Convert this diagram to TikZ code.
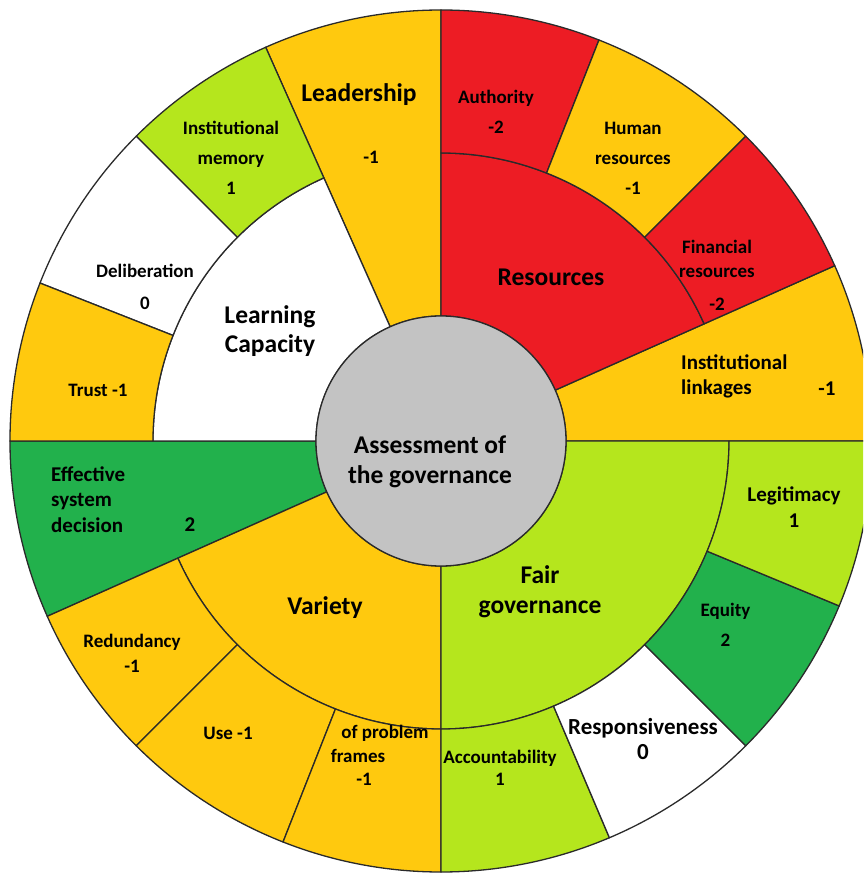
\documentclass[tikz,border=0pt]{standalone}
\usepackage{fontspec}
\setmainfont{Carlito}

\definecolor{cyellow}{HTML}{FFC90E}
\definecolor{cred}{HTML}{ED1C24}
\definecolor{clime}{HTML}{B5E61D}
\definecolor{cgreen}{HTML}{22B14C}
\definecolor{cgray}{HTML}{C3C3C3}
\definecolor{cedge}{HTML}{2A2A2A}

% annular sector: colour, start angle, end angle, inner radius, outer radius
\newcommand\annsector[5]{%
  \filldraw[sector, fill=#1]
    (#2:#4) arc[start angle=#2, end angle=#3, radius=#4]
    -- (#3:#5) arc[start angle=#3, end angle=#2, radius=#5] -- cycle;}

\begin{document}
\begin{tikzpicture}[x=1pt, y=1pt,
  sector/.style={draw=cedge, line width=1.3pt, line join=round},
  lbl/.style 2 args={font=\fontsize{#1}{#2}\selectfont\bfseries,
    align=center, anchor=center, inner sep=0pt, text=black},
  lbll/.style 2 args={font=\fontsize{#1}{#2}\selectfont\bfseries,
    align=left, anchor=west, inner sep=0pt, text=black}]

\useasboundingbox (-441,-434) rectangle (422,441);
\clip (-441,-434) rectangle (422,441);
\fill[white] (-441,-434) rectangle (422,441);

% radii of the three rings
\def\ra{125}
\def\rb{288}
\def\rc{431}

% categories without sub-items span both rings
\annsector{cyellow}{0}{24}{\ra}{\rc}
\annsector{cyellow}{90}{114}{\ra}{\rc}
\annsector{cgreen}{180}{204}{\ra}{\rc}

% inner ring: categories
\annsector{cred}{24}{90}{\ra}{\rb}
\annsector{white}{114}{180}{\ra}{\rb}
\annsector{cyellow}{204}{270}{\ra}{\rb}
\annsector{clime}{270}{360}{\ra}{\rb}

% outer ring: sub-items
\annsector{cred}{68.5}{90}{\rb}{\rc}
\annsector{cyellow}{45}{68.5}{\rb}{\rc}
\annsector{cred}{24}{45}{\rb}{\rc}
\annsector{clime}{114}{135}{\rb}{\rc}
\annsector{white}{135}{158.5}{\rb}{\rc}
\annsector{cyellow}{158.5}{180}{\rb}{\rc}
\annsector{cyellow}{204}{225}{\rb}{\rc}
\annsector{cyellow}{225}{248.5}{\rb}{\rc}
\annsector{cyellow}{248.5}{270}{\rb}{\rc}
\annsector{clime}{270}{293}{\rb}{\rc}
\annsector{white}{293}{315}{\rb}{\rc}
\annsector{cgreen}{315}{337.5}{\rb}{\rc}
\annsector{clime}{337.5}{360}{\rb}{\rc}

% hub
\filldraw[sector, fill=cgray] (0,0) circle[radius=\ra];

% hub and category labels
\node[lbl={25.5}{30}] (hub) at (-11,-21) {Assessment of\\the governance};
\node[lbl={25.5}{28}] (leadership) at (-82,346) {Leadership};
\node[lbl={19}{30}] (leadershipval) at (-70,284) {-1};
\node[lbl={25.5}{28}] (resources) at (110,164) {Resources};
\node[lbl={25.5}{29}] (learning) at (-171,110) {Learning\\Capacity};
\node[lbl={25.5}{28}] (variety) at (-116,-167) {Variety};
\node[lbl={25.5}{30}] (fair) at (99,-151) {Fair\\governance};
\node[lbll={21}{25}] (linkages) at (240,64.5) {Institutional\\linkages};
\node[lbl={21}{25}] (linkagesval) at (386,52) {-1};
\node[lbll={21}{25.5}] (effective) at (-390,-58.5) {Effective\\system\\decision};
\node[lbl={21}{25}] (effectiveval) at (-251,-84) {2};

% sub-item labels
\node[lbl={19}{30}] (authority) at (55,329) {Authority\\-2};
\node[lbl={19}{30}] (human) at (192,283) {Human\\resources\\-1};
\node[lbl={19}{24}] (financial) at (276,182) {Financial\\resources};
\node[lbl={19}{24}] (financialval) at (276,137) {-2};
\node[lbl={19}{30}] (memory) at (-210,283) {Institutional\\memory\\1};
\node[lbl={19}{32}] (deliberation) at (-296,154) {Deliberation\\0};
\node[lbl={19}{30}] (trust) at (-343,51) {Trust -1};
\node[lbl={19}{25}] (redundancy) at (-309,-212) {Redundancy\\-1};
\node[lbl={19}{25}] (use) at (-213,-292) {Use -1};
\node[lbl={19}{23}] (frames1) at (-56,-292) {of problem};
\node[lbl={19}{23}] (frames2) at (-83,-315) {frames};
\node[lbl={19}{23}] (framesval) at (-77,-338) {-1};
\node[lbl={19}{22}] (accountability) at (59,-327) {Accountability\\1};
\node[lbl={23}{25}] (responsiveness) at (202,-298.5) {Responsiveness\\0};
\node[lbl={19}{30}] (equity) at (284.5,-184) {Equity\\2};
\node[lbl={21}{26}] (legitimacy) at (353,-66) {Legitimacy\\1};
\end{tikzpicture}
\end{document}
